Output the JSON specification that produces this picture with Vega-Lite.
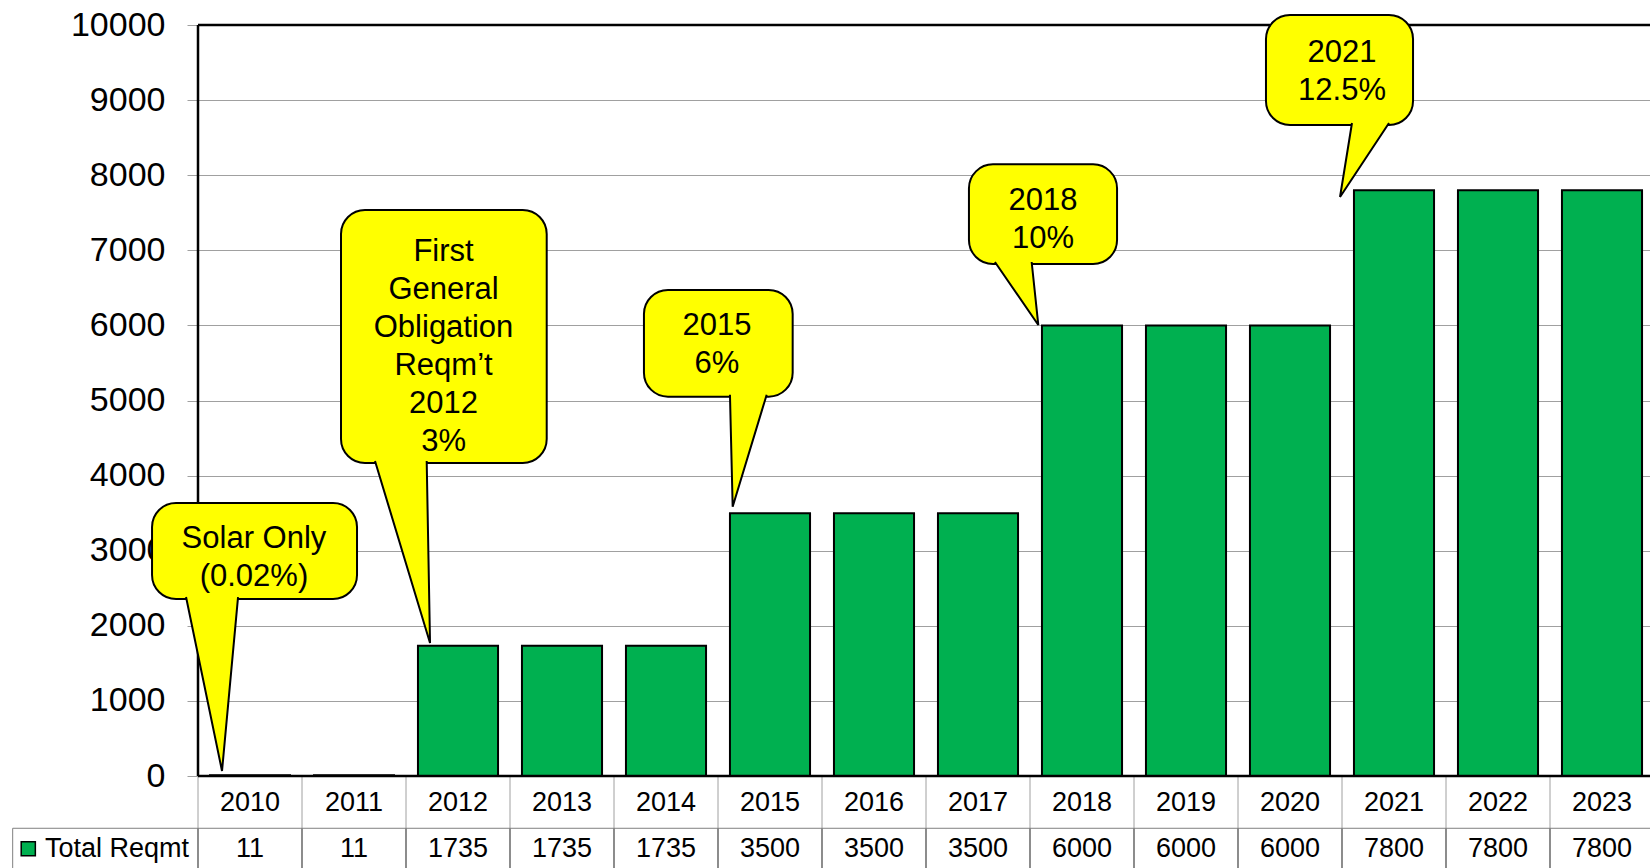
{
  "$schema": "https://vega.github.io/schema/vega-lite/v6.json",
  "width": 1452,
  "height": 843,
  "autosize": {"type": "none"},
  "padding": {"left": 198, "top": 25, "right": 0, "bottom": 0},
  "background": "#ffffff",
  "config": {"view": {"stroke": null}, "font": "Liberation Sans"},
  "datasets": {
    "reqmt": [
      {"year": "2010", "value": 11},
      {"year": "2011", "value": 11},
      {"year": "2012", "value": 1735},
      {"year": "2013", "value": 1735},
      {"year": "2014", "value": 1735},
      {"year": "2015", "value": 3500},
      {"year": "2016", "value": 3500},
      {"year": "2017", "value": 3500},
      {"year": "2018", "value": 6000},
      {"year": "2019", "value": 6000},
      {"year": "2020", "value": 6000},
      {"year": "2021", "value": 7800},
      {"year": "2022", "value": 7800},
      {"year": "2023", "value": 7800}
    ],
    "callouts": [
      {"id": 1, "x1": -0.442, "x2": 1.529, "y1": 3635, "y2": 2357, "tx": 0.538, "ty": 3036, "label": "Solar Only\n(0.02%)"},
      {"id": 2, "x1": 1.375, "x2": 3.353, "y1": 7537, "y2": 4168, "tx": 2.361, "ty": 6858, "label": "First\nGeneral\nObligation\nReqm’t\n2012\n3%"},
      {"id": 3, "x1": 4.288, "x2": 5.718, "y1": 6471, "y2": 5051, "tx": 4.99, "ty": 5872, "label": "2015\n6%"},
      {"id": 4, "x1": 7.413, "x2": 8.837, "y1": 8145, "y2": 6818, "tx": 8.125, "ty": 7537, "label": "2018\n10%"},
      {"id": 5, "x1": 10.269, "x2": 11.683, "y1": 10133, "y2": 8668, "tx": 11.0, "ty": 9511, "label": "2021\n12.5%"}
    ],
    "tails": [
      {"id": 1, "o": 1, "x": -0.115, "y": 2383},
      {"id": 1, "o": 2, "x": 0.231, "y": 67},
      {"id": 1, "o": 3, "x": 0.385, "y": 2383},
      {"id": 2, "o": 1, "x": 1.702, "y": 4194},
      {"id": 2, "o": 2, "x": 2.231, "y": 1771},
      {"id": 2, "o": 3, "x": 2.199, "y": 4194},
      {"id": 3, "o": 1, "x": 5.115, "y": 5077},
      {"id": 3, "o": 2, "x": 5.141, "y": 3586},
      {"id": 3, "o": 3, "x": 5.468, "y": 5077},
      {"id": 4, "o": 1, "x": 7.663, "y": 6844},
      {"id": 4, "o": 2, "x": 8.08, "y": 6005},
      {"id": 4, "o": 3, "x": 8.016, "y": 6844},
      {"id": 5, "o": 1, "x": 11.096, "y": 8695},
      {"id": 5, "o": 2, "x": 10.981, "y": 7710},
      {"id": 5, "o": 3, "x": 11.452, "y": 8695}
    ],
    "edges": [
      {"e": 0}, {"e": 1}, {"e": 2}, {"e": 3}, {"e": 4}, {"e": 5}, {"e": 6}, {"e": 7},
      {"e": 8}, {"e": 9}, {"e": 10}, {"e": 11}, {"e": 12}, {"e": 13}, {"e": 14}
    ]
  },
  "layer": [
    {
      "data": {"name": "reqmt"},
      "layer": [
        {
          "mark": {"type": "bar", "fill": "#00B050", "stroke": "#000000", "strokeWidth": 2},
          "encoding": {
            "x": {"field": "year", "type": "nominal", "axis": null,
                  "scale": {"range": [0, 1456], "paddingInner": 0.23, "paddingOuter": 0.115}},
            "y": {"field": "value", "type": "quantitative",
                  "scale": {"domain": [-1225, 10000], "nice": false, "zero": false},
                  "axis": {"values": [0, 1000, 2000, 3000, 4000, 5000, 6000, 7000, 8000, 9000, 10000],
                           "format": "d", "title": null, "grid": true, "gridColor": "#A0A0A0", "gridWidth": 1,
                           "domain": false, "ticks": true, "tickSize": 11, "tickColor": "#A0A0A0", "tickWidth": 1,
                           "labelFontSize": 34, "labelFont": "Liberation Sans", "labelColor": "#000000",
                           "labelPadding": 22}},
            "y2": {"datum": 0}
          }
        },
        {
          "mark": {"type": "text", "fontSize": 27, "align": "center", "baseline": "middle", "color": "#000000"},
          "encoding": {
            "x": {"field": "year", "type": "nominal", "axis": null},
            "y": {"datum": -357},
            "text": {"field": "year", "type": "nominal"}
          }
        },
        {
          "mark": {"type": "text", "fontSize": 27, "align": "center", "baseline": "middle", "color": "#000000"},
          "encoding": {
            "x": {"field": "year", "type": "nominal", "axis": null},
            "y": {"datum": -969},
            "text": {"field": "value", "type": "quantitative", "format": "d"}
          }
        }
      ]
    },
    {
      "layer": [
        {
          "data": {"name": "edges"},
          "mark": {"type": "rule", "stroke": "#A0A0A0", "strokeWidth": 1},
          "encoding": {
            "x": {"field": "e", "type": "quantitative", "axis": null, "title": null,
                  "scale": {"domain": [0, 14], "range": [0, 1456], "nice": false, "zero": false}},
            "y": {"datum": 0},
            "y2": {"datum": -696}
          }
        },
        {
          "data": {"name": "edges"},
          "mark": {"type": "rule", "stroke": "#404040", "strokeWidth": 1.2},
          "encoding": {
            "x": {"field": "e", "type": "quantitative", "axis": null, "title": null,
                  "scale": {"domain": [0, 14], "range": [0, 1456], "nice": false, "zero": false}},
            "y": {"datum": -696},
            "y2": {"datum": -1225}
          }
        },
        {
          "data": {"values": [{}]},
          "mark": {"type": "rule", "stroke": "#808080", "strokeWidth": 1},
          "encoding": {
            "x": {"datum": -1.782, "axis": null},
            "x2": {"datum": 14},
            "y": {"datum": -696}
          }
        },
        {
          "data": {"values": [{}]},
          "mark": {"type": "rule", "stroke": "#808080", "strokeWidth": 1},
          "encoding": {
            "x": {"datum": -1.782, "axis": null},
            "y": {"datum": -696},
            "y2": {"datum": -1225}
          }
        },
        {
          "data": {"values": [{}]},
          "mark": {"type": "rule", "stroke": "#000000", "strokeWidth": 2.5},
          "encoding": {
            "x": {"datum": 0, "axis": null},
            "y": {"datum": 10000},
            "y2": {"datum": 0}
          }
        },
        {
          "data": {"values": [{}]},
          "mark": {"type": "rule", "stroke": "#000000", "strokeWidth": 2.5},
          "encoding": {
            "x": {"datum": 0, "axis": null},
            "x2": {"datum": 14},
            "y": {"datum": 10000}
          }
        },
        {
          "data": {"values": [{}]},
          "mark": {"type": "rule", "stroke": "#000000", "strokeWidth": 2.5},
          "encoding": {
            "x": {"datum": 0, "axis": null},
            "x2": {"datum": 14},
            "y": {"datum": 0}
          }
        },
        {
          "data": {"name": "callouts"},
          "mark": {"type": "rect", "fill": "#FFFF00", "stroke": "#000000", "strokeWidth": 2, "cornerRadius": 24},
          "encoding": {
            "x": {"field": "x1", "type": "quantitative", "axis": null, "title": null},
            "x2": {"field": "x2"},
            "y": {"field": "y1", "type": "quantitative", "title": null},
            "y2": {"field": "y2"}
          }
        },
        {
          "data": {"name": "tails"},
          "mark": {"type": "line", "fill": "#FFFF00", "stroke": "#000000", "strokeWidth": 2, "interpolate": "linear"},
          "encoding": {
            "x": {"field": "x", "type": "quantitative", "axis": null, "title": null},
            "y": {"field": "y", "type": "quantitative", "title": null},
            "detail": {"field": "id", "type": "nominal"},
            "order": {"field": "o", "type": "quantitative"}
          }
        },
        {
          "data": {"name": "callouts"},
          "mark": {"type": "text", "fontSize": 31, "lineHeight": 38, "lineBreak": "\n", "align": "center", "baseline": "alphabetic", "color": "#000000"},
          "encoding": {
            "x": {"field": "tx", "type": "quantitative", "axis": null, "title": null},
            "y": {"field": "ty", "type": "quantitative", "title": null},
            "text": {"field": "label", "type": "nominal"}
          }
        },
        {
          "data": {"values": [{}]},
          "mark": {"type": "point", "shape": "square", "size": 200, "filled": true, "fill": "#00B050", "stroke": "#000000", "strokeWidth": 1.5, "opacity": 1},
          "encoding": {
            "x": {"datum": -1.632, "axis": null},
            "y": {"datum": -969}
          }
        },
        {
          "data": {"values": [{}]},
          "mark": {"type": "text", "text": "Total Reqmt", "fontSize": 27, "align": "left", "baseline": "middle", "color": "#000000"},
          "encoding": {
            "x": {"datum": -1.471, "axis": null},
            "y": {"datum": -969}
          }
        }
      ]
    }
  ],
  "resolve": {"scale": {"x": "independent"}}
}
